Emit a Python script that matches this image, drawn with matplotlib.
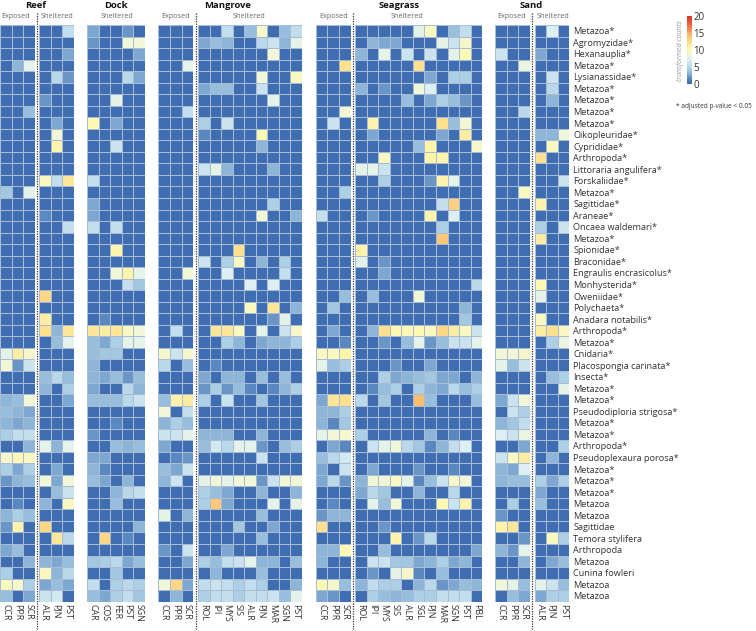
import numpy as np
import matplotlib
matplotlib.use("Agg")
import matplotlib.pyplot as plt
from matplotlib.colors import LinearSegmentedColormap

plt.rcParams['font.family'] = ['Open Sans', 'DejaVu Sans']

taxa = ["Metazoa*", "Agromyzidae*", "Hexanauplia*", "Metazoa*", "Lysianassidae*", "Metazoa*", "Metazoa*",
        "Metazoa*", "Metazoa*", "Oikopleuridae*", "Cyprididae*", "Arthropoda*", "Littoraria angulifera*",
        "Forskaliidae*", "Metazoa*", "Sagittidae*", "Araneae*", "Oncaea waldemari*", "Metazoa*", "Spionidae*",
        "Braconidae*", "Engraulis encrasicolus*", "Monhysterida*", "Oweniidae*", "Polychaeta*",
        "Anadara notabilis*", "Arthropoda*", "Metazoa*", "Cnidaria*", "Placospongia carinata*", "Insecta*",
        "Metazoa*", "Metazoa*", "Pseudodiploria strigosa*", "Metazoa*", "Metazoa*", "Arthropoda*",
        "Pseudoplexaura porosa*", "Metazoa*", "Metazoa*", "Metazoa*", "Metazoa", "Metazoa", "Sagittidae",
        "Temora stylifera", "Arthropoda", "Metazoa", "Cunina fowleri", "Metazoa", "Metazoa"]

exposed_sites = ["CCR", "PPR", "SCR"]
reef_sheltered_sites = ["ALR", "PJN", "PST"]
dock_sites = ["CAR", "COS", "FER", "PST", "SGN"]
mangrove_sites = ["ROL", "IPI", "MYS", "SIS", "ALR", "PJN", "MAR", "SGN", "PST"]
seagrass_sites = ["ROL", "IPI", "MYS", "SIS", "ALR", "SGL", "PJN", "MAR", "SGN", "PST", "PBL"]
sand_sheltered_sites = ["ALR", "PJN", "PST"]

# Non-zero rows only: {row index: values per site}
reef_exposed = {3: [0, 3, 7.5], 7: [0, 0, 3.5], 14: [4, 0, 7.5], 28: [7.5, 11, 9], 29: [8.5, 2, 6],
                32: [3, 3.5, 8.5], 33: [3.5, 3, 2.5], 34: [3, 2.5, 3], 35: [4.5, 5.5, 5.5], 36: [0, 0, 3],
                37: [9, 10, 9.5], 38: [4.5, 2.5, 4.5], 39: [2, 3, 3.5], 41: [0, 1.5, 0], 42: [3, 4.5, 3.5],
                43: [2, 10.5, 0], 45: [2.5, 3.5, 0], 46: [0, 0, 3], 47: [4.5, 0, 0], 48: [9.5, 9, 4.5],
                49: [3.5, 0, 2.5]}
reef_sheltered = {0: [0, 0, 5.5], 2: [0, 0, 2.5], 4: [0, 5, 2], 6: [2, 0, 0], 8: [0, 2.5, 0], 9: [0, 8.5, 0],
                  10: [0, 10.5, 0], 13: [9.5, 5.5, 11.5], 16: [1.5, 0, 0], 17: [0, 0, 5.5], 23: [12.5, 0, 0],
                  25: [11, 0, 0], 26: [12, 3, 11.5], 27: [0, 3.5, 7.5], 30: [3.5, 5, 3.5], 31: [3, 0, 4.5],
                  32: [0, 0, 2.5], 36: [7.5, 3, 7.5], 38: [0, 2.5, 0], 39: [8.5, 2.5, 8.5], 40: [0, 3.5, 6],
                  41: [3, 0, 9.5], 43: [12.5, 0, 0], 44: [0, 11.5, 5], 46: [3, 2.5, 3.5], 47: [9.5, 3, 5],
                  48: [2.5, 3.5, 2.5], 49: [6, 6.5, 0]}
dock_sheltered = {0: [2.5, 0, 0, 2, 0], 1: [2, 0, 0, 8.5, 8.5], 2: [0, 0, 0, 0, 2.5], 4: [0, 0, 0, 5, 2.5],
                  6: [0, 0, 7.5, 0, 0], 8: [10, 0, 2.5, 0, 0], 10: [0, 0, 6, 0, 0], 13: [5.5, 0, 0, 0, 0],
                  15: [2.5, 0, 0, 0, 0], 16: [2.5, 0, 0, 0, 0], 17: [5.5, 0, 5.5, 0, 0], 19: [0, 0, 10.5, 0, 0],
                  21: [0, 0, 8.5, 10.5, 7.5], 22: [0, 0, 0, 5.5, 4], 25: [0, 1.5, 0, 0, 0],
                  26: [11.5, 11, 11.5, 9.5, 8.5], 27: [3.5, 2.5, 4.5, 7.5, 7.5], 28: [3.5, 4, 4, 0, 0],
                  29: [3, 0, 0, 0, 0], 30: [3, 2.5, 3.5, 2, 3.5], 31: [2.5, 0, 0, 5, 3],
                  32: [3.5, 3.5, 3.5, 5, 6], 34: [0, 0, 1.5, 0, 0], 35: [2, 0, 0, 0, 0], 36: [0, 0, 3.5, 3, 3.5],
                  37: [2.5, 2.5, 0, 0, 0], 38: [3, 1.5, 0, 0, 0], 39: [3.5, 2.5, 0, 3, 0], 40: [0, 0, 3, 5, 5.5],
                  41: [0, 0, 3.5, 0, 0], 43: [0, 0, 0, 0, 3], 44: [0, 12.5, 0, 1.5, 0], 46: [4, 4.5, 5, 2.5, 3.5],
                  47: [0, 0, 4, 0, 0], 48: [5.5, 0, 4.5, 5, 4.5], 49: [3.5, 2.5, 4.5, 5.5, 4]}
mangrove_exposed = {3: [0, 0, 7.5], 7: [0, 0, 5.5], 21: [0, 0, 8.5], 26: [0, 5.5, 0], 28: [9, 6, 9], 29: [5, 0, 3.5],
                    32: [3.5, 10.5, 11], 33: [8.5, 0, 5.5], 34: [3, 4.5, 3.5], 35: [6, 6, 7.5], 36: [2.5, 0, 0],
                    37: [0, 1.5, 2], 38: [3.5, 2.5, 6], 39: [3, 6, 0], 42: [7.5, 0, 3], 45: [2, 0, 6],
                    46: [0, 0, 2.5], 48: [8.5, 12.5, 2.5], 49: [0, 3, 0]}
mangrove_sheltered = {0: [0, 0, 5.5, 0, 3.5, 9, 0, 3.5, 5.5], 1: [2.5, 3.5, 3, 0, 0, 5, 6, 3, 7.5],
                      2: [0, 0, 0, 0, 0, 0, 8.5, 0, 0], 4: [0, 0, 0, 0, 0, 8.5, 0, 0, 9.5],
                      5: [2.5, 3.5, 3.5, 0, 0, 6, 0, 0, 0], 6: [0, 0, 0, 0, 0, 0, 7.5, 0, 0],
                      8: [4.5, 0, 6, 0, 0, 0, 0, 0, 0], 9: [1.5, 0, 0, 0, 0, 10, 0, 0, 0],
                      10: [0, 0, 0, 0, 0, 3, 0, 0, 0], 12: [6, 7.5, 3, 0, 0, 0, 3, 0, 0],
                      15: [0, 0, 0, 0, 0, 0, 4.5, 0, 0], 16: [0, 0, 0, 0, 0, 8.5, 0, 0, 3],
                      19: [0, 0, 0, 12, 0, 0, 0, 0, 0], 20: [6, 0, 4.5, 9.5, 0, 3, 0, 4.5, 0],
                      21: [0, 0, 7, 0, 0, 0, 0, 5.5, 0], 22: [0, 0, 0, 0, 7, 0, 7, 0, 0],
                      24: [0, 0, 0, 0, 9.5, 0, 11.5, 0, 3], 25: [0, 0, 0, 0, 0, 0, 2, 7.5, 0],
                      26: [0, 11.5, 11.5, 9.5, 0, 7.5, 0, 6, 9], 27: [0, 0, 4.5, 3, 0, 2.5, 3, 3, 4.5],
                      29: [0, 1.5, 0, 0, 0, 0, 0, 0, 0], 30: [2.5, 0, 3, 3, 0, 3.5, 0, 3.5, 0],
                      31: [2, 4.5, 2, 3.5, 1.5, 0, 1.5, 3, 4.5], 32: [4.5, 0, 6, 0, 0, 4, 0, 0, 0],
                      35: [3, 3, 3, 0, 0, 3, 0, 0, 0], 36: [3.5, 6.5, 5, 7.5, 7.5, 2, 0, 3.5, 4.5],
                      37: [0, 0, 0, 0, 0, 6, 0, 0, 0], 39: [7.5, 8.5, 7.5, 8.5, 8.5, 2, 6, 8.5, 8.5],
                      40: [4.5, 3.5, 2.5, 0, 0, 3, 0, 0, 3], 41: [4.5, 13.5, 2.5, 0, 0, 0, 7.5, 0, 7.5],
                      42: [0, 0, 0, 0, 0, 3.5, 0, 0, 0], 43: [0, 0, 0, 4, 0, 0, 2.5, 0, 0],
                      44: [0, 0, 0, 0, 0, 3.5, 0, 0, 0], 45: [0, 0, 2.5, 0, 0, 0, 0, 0, 0],
                      46: [4.5, 3.5, 5.5, 6, 7.5, 3, 3, 0, 3.5], 47: [0, 3, 0, 0, 0, 3.5, 0, 0, 0],
                      48: [5.5, 6, 5.5, 4.5, 5.5, 4.5, 0, 0, 3], 49: [4.5, 5.5, 5.5, 4.5, 5.5, 5.5, 6, 3.5, 7.5]}
seagrass_exposed = {3: [0, 0, 12], 7: [0, 0, 8.5], 8: [0, 6, 0], 14: [0, 0, 4.5], 16: [5.5, 0, 0], 23: [0, 0, 3.5],
                    24: [0, 4, 0], 26: [0, 2.5, 0], 27: [0, 0, 1.5], 28: [9.5, 9.5, 10.5], 29: [7.5, 3.5, 4.5],
                    32: [2.5, 11.5, 12], 33: [3, 3, 4.5], 34: [3, 1.5, 4], 35: [7.5, 8.5, 9], 36: [0, 2.5, 1.5],
                    37: [3.5, 5, 6.5], 38: [2.5, 0, 6], 39: [2.5, 5, 2], 41: [0, 1.5, 0], 42: [2, 3, 3],
                    43: [12, 0, 0], 45: [3, 3, 10], 46: [3, 0, 0], 48: [10, 9, 3.5], 49: [2.5, 2, 0]}
seagrass_sheltered = {0: [0, 0, 0, 0, 0, 7.5, 9.5, 0, 3.5, 5.5, 0], 1: [0, 3, 2.5, 2.5, 0, 0, 0, 7.5, 6, 9, 0],
                      2: [3, 0, 7.5, 0, 6, 0, 6, 0, 7.5, 10, 0], 3: [0, 0, 0, 0, 0, 12, 0, 0, 0, 0, 0],
                      4: [0, 0, 0, 0, 0, 0, 2.5, 0, 4.5, 4.5, 0], 5: [3, 0, 2, 0, 0, 8.5, 7, 0, 0, 0, 0],
                      6: [0, 0, 0, 0, 3.5, 0, 2.5, 4.5, 3.5, 2, 0], 8: [0, 10.5, 0, 0, 0, 0, 0, 12, 3.5, 8.5, 0],
                      9: [0, 2.5, 0, 0, 0, 0, 0, 2.5, 0, 11, 0], 10: [0, 0, 0, 0, 0, 3.5, 10.5, 0, 0, 0, 9],
                      11: [0, 0, 9.5, 0, 0, 0, 10.5, 10.5, 0, 0, 0], 12: [7.5, 7.5, 6, 0, 0, 0, 0, 0, 0, 0, 0],
                      13: [0, 0, 4.5, 0, 0, 0, 2, 10.5, 7.5, 0, 0], 15: [0, 0, 0, 0, 0, 0, 0, 5.5, 13, 0, 0],
                      16: [0, 2, 0, 0, 0, 0, 10.5, 0, 7, 0, 0], 17: [0, 0, 0, 0, 0, 0, 0, 4.5, 0, 0, 0],
                      18: [0, 0, 0, 0, 0, 0, 0, 13.5, 0, 0, 0], 19: [10.5, 0, 0, 0, 0, 0, 0, 0, 0, 0, 0],
                      20: [7.5, 0, 2, 0, 0, 0, 0, 0, 0, 0, 0], 21: [0, 0, 2.5, 0, 0, 0, 0, 0, 0, 0, 0],
                      22: [0, 0, 0, 0, 0, 0, 0, 0, 0, 0, 5], 23: [0, 3.5, 0, 0, 0, 8.5, 0, 0, 0, 0, 0],
                      24: [0, 0, 0, 0, 0, 0, 0, 0, 0, 3, 0], 25: [0, 0, 0, 0, 0, 0, 0, 0, 0, 4, 0],
                      26: [0, 3, 12, 10, 10, 10, 9.5, 12.5, 11, 9.5, 6], 27: [0, 0, 2, 0, 3.5, 7.5, 2, 3.5, 6, 6, 7.5],
                      29: [0, 0, 0, 2, 0, 0, 2.5, 0, 0, 0, 0], 30: [0, 0, 4.5, 2.5, 3, 3.5, 4, 2.5, 2.5, 0, 3],
                      31: [0, 1.5, 3.5, 4.5, 0, 4.5, 3, 2.5, 5, 3.5, 4.5], 32: [5, 0, 4, 0, 0, 14, 3.5, 0, 0, 0, 3.5],
                      35: [4.5, 0, 0, 0, 0, 0, 3, 0, 1.5, 0, 0], 36: [0, 6, 7.5, 8.5, 5, 4, 1.5, 3, 5.5, 7, 0],
                      38: [0, 2.5, 0, 0, 0, 2, 0, 0, 1.5, 0, 0], 39: [3, 8.5, 8.5, 9.5, 7.5, 1.5, 3.5, 6, 9, 8.5, 0],
                      40: [2.5, 5, 4, 0, 0, 3, 0, 0, 5, 0, 0], 41: [0, 7.5, 3.5, 8.5, 0, 0, 0, 10, 6, 10.5, 0],
                      43: [0, 0, 2, 0, 0, 0, 0, 0, 0, 0, 0], 44: [0, 0, 0, 10.5, 0, 2, 5, 0, 0, 0, 0],
                      45: [0, 0, 3.5, 0, 0, 0, 0, 0, 0, 0, 2.5], 46: [0, 6, 6, 4, 4, 2.5, 3, 4.5, 2.5, 3, 0],
                      47: [0, 2, 0, 7.5, 9, 1.5, 0, 3.5, 0, 0, 0], 48: [3, 5.5, 4.5, 4.5, 0, 3, 5, 2, 2.5, 3.5, 3],
                      49: [0, 4.5, 3.5, 3, 3.5, 4.5, 4.5, 5.5, 5.5, 5.5, 0]}
sand_exposed = {2: [6, 0, 0], 3: [0, 0, 8], 7: [0, 0, 5], 14: [0, 0, 9.5], 28: [8.5, 8.5, 9], 29: [7.5, 3.5, 6],
                32: [2.5, 6, 8.5], 33: [0, 6, 4.5], 34: [3, 4, 5.5], 35: [7, 6, 8], 36: [0, 0, 2.5], 37: [6, 9.5, 11],
                38: [3, 2.5, 7], 39: [3, 3.5, 3.5], 41: [0, 4.5, 0], 42: [2, 0, 0], 43: [10.5, 11.5, 0], 44: [0, 0, 2],
                45: [3, 2, 7.5], 46: [0, 0, 3], 48: [8.5, 7.5, 3.5], 49: [0, 3.5, 2.5]}
sand_sheltered = {0: [0, 7, 0], 2: [2.5, 0, 0], 4: [0, 6, 0], 5: [0, 5, 0], 6: [0, 3, 0], 9: [3, 3, 8.5], 10: [0, 9.5, 0],
                  11: [12, 0, 0], 13: [0, 0, 6], 15: [10.5, 0, 0], 17: [4.5, 0, 6], 18: [11, 0, 0], 22: [10, 0, 0],
                  23: [7.5, 0, 0], 25: [9.5, 0, 0], 26: [11, 12, 9.5], 27: [0, 4.5, 8], 30: [0, 3.5, 4.5], 31: [0, 0, 7.5],
                  36: [0, 0, 4.5], 37: [0, 3, 0], 39: [4.5, 2.5, 4.5], 40: [2.5, 0, 0], 41: [3.5, 0, 0], 44: [0, 9.5, 4.5],
                  46: [0, 2.5, 3.5], 48: [7.5, 6, 3.5], 49: [2.5, 4.5, 4.5]}

W, H = 756, 631
fig = plt.figure(figsize=(W / 100, H / 100), dpi=100, facecolor='white')
cmap = LinearSegmentedColormap.from_list(
    "rb", [(0, "#3f6db2"), (0.07, "#5684bd"), (0.15, "#8db6d8"), (0.25, "#b9d8ea"), (0.35, "#dceff2"),
           (0.42, "#f0f6d8"), (0.5, "#fdf9b5"), (0.6, "#fee08f"), (0.7, "#fdbf6f"), (0.85, "#ef6f45"),
           (1, "#d73027")])


def px_axes(x0, y0, x1, y1):
    return fig.add_axes([x0 / W, 1 - y1 / H, (x1 - x0) / W, (y1 - y0) / H])


TOP, BOTTOM = 25.0, 601.7
N = len(taxa)
panels = [
    (0.0, 35.0, reef_exposed, exposed_sites),
    (39.0, 73.7, reef_sheltered, reef_sheltered_sites),
    (87.3, 145.0, dock_sheltered, dock_sites),
    (158.3, 193.3, mangrove_exposed, exposed_sites),
    (198.0, 301.7, mangrove_sheltered, mangrove_sites),
    (315.7, 350.7, seagrass_exposed, exposed_sites),
    (355.0, 482.3, seagrass_sheltered, seagrass_sites),
    (495.3, 530.0, sand_exposed, exposed_sites),
    (534.7, 569.0, sand_sheltered, sand_sheltered_sites),
]
axes = []
for x0, x1, rows, sites in panels:
    ax = px_axes(x0, TOP, x1, BOTTOM)
    m = np.zeros((N, len(sites)))
    for r, vals in rows.items():
        m[r] = vals
    ax.pcolormesh(m, cmap=cmap, vmin=0, vmax=20, edgecolors='#a9bcd4', linewidth=0.5)
    ax.set_ylim(N, 0)
    ax.set_xlim(0, len(sites))
    ax.set_xticks(np.arange(len(sites)) + 0.5)
    ax.set_xticklabels(sites, rotation=270, fontsize=6.4, color='#333333')
    ax.tick_params(axis='x', length=0, pad=1.5)
    ax.set_yticks([])
    for s in ax.spines.values():
        s.set_visible(False)
    axes.append(ax)

axes[-1].yaxis.tick_right()
axes[-1].set_yticks(np.arange(N) + 0.5)
axes[-1].set_yticklabels(taxa, fontsize=6.6, color='#333333')
axes[-1].tick_params(axis='y', length=0, pad=3)


def t(x, y, s, **kw):
    fig.text(x / W, 1 - y / H, s, ha=kw.pop('ha', 'center'), va='center', **kw)


for x, s in [(36, "Reef"), (116, "Dock"), (228, "Mangrove"), (399, "Seagrass"), (531, "Sand")]:
    t(x, 5, s, fontsize=6.8, fontweight='bold', color='#111111')
for x, s in [(16, "Exposed"), (57, "Sheltered"), (116.5, "Sheltered"), (176, "Exposed"), (249, "Sheltered"),
             (334, "Exposed"), (407, "Sheltered"), (512, "Exposed"), (553, "Sheltered")]:
    t(x, 17, s, fontsize=5.2, color='#666666')

for x in [37, 195.6, 352.6, 532.4]:
    fig.add_artist(plt.Line2D([x / W, x / W], [1 - 13 / H, 1 - 629 / H], color='#333333', lw=0.9,
                              ls=(0, (1, 1))))

cax = px_axes(687, 16, 691.5, 84.5)
grad = np.linspace(0, 20, 256).reshape(-1, 1)
cax.imshow(grad, aspect='auto', cmap=cmap, vmin=0, vmax=20, origin='lower', extent=[0, 1, 0, 20])
cax.set_xticks([])
cax.yaxis.tick_right()
cax.set_yticks([0, 5, 10, 15, 20])
cax.tick_params(axis='y', length=0, pad=1.5, labelsize=7, labelcolor='#333333')
for s in cax.spines.values():
    s.set_visible(False)
t(680.7, 51, "transformed counts", fontsize=5.0, style='italic', color='#999999', rotation=90)
t(676, 107, "* adjusted p-value < 0.05", fontsize=4.7, color='#333333', ha='left')

fig.savefig("out.png", dpi=100, facecolor='white')
